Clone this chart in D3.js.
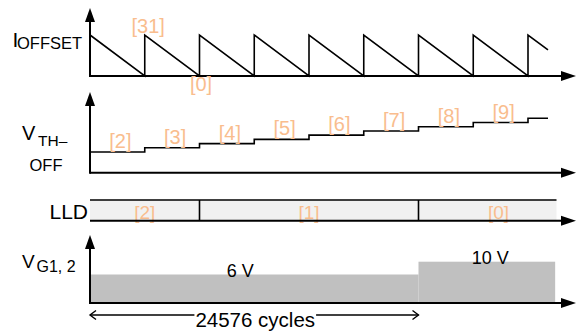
<!DOCTYPE html>
<html>
<head>
<meta charset="utf-8">
<script src="https://cdn.jsdelivr.net/npm/d3@7"></script>
<style>
  body { margin: 0; background: #fff; }
  svg text { font-family: "Liberation Sans", Arial, Helvetica, sans-serif; }
</style>
</head>
<body>
<svg id="chart" width="580" height="332"></svg>
<script>
// I_OFFSET code: jumps to 31 every 4096 cycles, ramps down to 0
const offsetCycles = [0, 4096, 4096, 8192, 8192, 12288, 12288, 16384, 16384, 20480, 20480, 24576, 24576, 28672, 28672, 32768, 32768, 34264]
const offsetCodes  = [31, 0, 31, 0, 31, 0, 31, 0, 31, 0, 31, 0, 31, 0, 31, 0, 31, 19.7]
const offsetLabels = ['[31]', '[0]']
const offsetLabelCycles = [4096, 8192]
const offsetLabelCodes = [31, 0]

// V_TH-OFF staircase
const vthCodes  = [2, 3, 4, 5, 6, 7, 8, 9, 10]
const vthStarts = [0, 4096, 8192, 12288, 16384, 20480, 24576, 28672, 32768]
const vthEnd = 34264
const vthLabels = ['[2]', '[3]', '[4]', '[5]', '[6]', '[7]', '[8]', '[9]']

// LLD code
const lldCodes  = ['[2]', '[1]', '[0]']
const lldStarts = [0, 8192, 24576]
const lldEnd = 34900

// V_G1,2 supply
const vgVolts  = [6, 10]
const vgStarts = [0, 24576]
const vgEnd = 34800
const vgLabels = ['6 V', '10 V']
const vgLabelCycles = [11240, 29950]

const spanCycles = [0, 24576]
const spanLabel = '24576 cycles'
const axisEnd = 36360

const orange = '#f9bd8e'
const svg = d3.select('#chart')

const x = d3.scaleLinear().domain([0, 24576]).range([90, 418.5])

// panel geometry
const panels = {
  off: {top: 8, base: 76},
  vth: {top: 92, base: 172.7},
  lld: {top: 200, base: 220.7},
  vg:  {top: 235, base: 303}
}

const yOff = d3.scaleLinear().domain([0, 31]).range([panels.off.base, 35])
const yVth = d3.scaleLinear().domain([2, 10]).range([152, 118.3])
const yVg  = d3.scaleLinear().domain([6, 10]).range([274.5, 261.7])

const drawAxes = (p, vertical) => {
  const g = svg.append('g')
  g.append('line')
    .attr('x1', x(0)).attr('x2', x(axisEnd) - 12)
    .attr('y1', p.base).attr('y2', p.base)
    .attr('stroke', '#000').attr('stroke-width', 2)
  g.append('path')
    .attr('d', `M${x(axisEnd)},${p.base} L${x(axisEnd) - 15},${p.base - 5} L${x(axisEnd) - 15},${p.base + 5} Z`)
    .attr('fill', '#000')
  if (vertical) {
    g.append('line')
      .attr('x1', x(0)).attr('x2', x(0))
      .attr('y1', p.base + 1).attr('y2', p.top + 12)
      .attr('stroke', '#000').attr('stroke-width', 2)
    g.append('path')
      .attr('d', `M${x(0)},${p.top} L${x(0) - 5},${p.top + 14} L${x(0) + 5},${p.top + 14} Z`)
      .attr('fill', '#000')
  }
}

// ---- V_G1,2 area (drawn first, behind axis)
const vgData = vgStarts.map((s, i) => ({start: s, end: i < vgStarts.length - 1 ? vgStarts[i + 1] : vgEnd, v: vgVolts[i]}))
svg.selectAll('.vg')
  .data(vgData)
  .enter().append('rect')
  .attr('class', 'vg')
  .attr('x', d => x(d.start))
  .attr('width', d => x(d.end) - x(d.start))
  .attr('y', d => yVg(d.v))
  .attr('height', d => panels.vg.base - yVg(d.v))
  .attr('fill', '#c0c0c0')

// ---- LLD box
const lldData = lldStarts.map((s, i) => ({start: s, end: i < lldStarts.length - 1 ? lldStarts[i + 1] : lldEnd, code: lldCodes[i]}))
svg.append('rect')
  .attr('x', x(0)).attr('width', x(lldEnd) - x(0))
  .attr('y', panels.lld.top).attr('height', panels.lld.base - panels.lld.top)
  .attr('fill', '#f1f1f1')
svg.append('line')
  .attr('x1', x(0)).attr('x2', x(lldEnd))
  .attr('y1', panels.lld.top).attr('y2', panels.lld.top)
  .attr('stroke', '#000').attr('stroke-width', 1.6)
svg.selectAll('.lld-div')
  .data(lldStarts.slice(1))
  .enter().append('line')
  .attr('x1', d => x(d)).attr('x2', d => x(d))
  .attr('y1', panels.lld.top).attr('y2', panels.lld.base)
  .attr('stroke', '#000').attr('stroke-width', 1.6)
svg.selectAll('.lld-label')
  .data(lldData)
  .enter().append('text')
  .attr('x', (d, i) => (x(d.start) + x(i < lldData.length - 1 ? d.end : axisEnd + 200)) / 2)
  .attr('y', 218.5)
  .attr('text-anchor', 'middle')
  .attr('font-size', 19)
  .attr('fill', orange)
  .text(d => d.code)

// ---- axes
drawAxes(panels.off, true)
drawAxes(panels.vth, true)
drawAxes(panels.lld, false)
drawAxes(panels.vg, true)

// ---- I_OFFSET sawtooth
const sawLine = d3.line().x(d => x(d[0])).y(d => yOff(d[1]))
svg.append('path')
  .attr('d', sawLine(offsetCycles.map((c, i) => [c, offsetCodes[i]])))
  .attr('fill', 'none').attr('stroke', '#000').attr('stroke-width', 1.6)
svg.selectAll('.off-label')
  .data(offsetLabels)
  .enter().append('text')
  .attr('x', (d, i) => x(offsetLabelCycles[i]) + (i === 0 ? 3.5 : 1.5))
  .attr('y', (d, i) => i === 0 ? yOff(offsetLabelCodes[i]) - 2 : yOff(offsetLabelCodes[i]) + 15)
  .attr('text-anchor', 'middle')
  .attr('font-size', 20)
  .attr('fill', orange)
  .text(d => d)

// ---- V_TH-OFF staircase
const vthPts = []
vthCodes.forEach((c, i) => {
  const end = i < vthCodes.length - 1 ? vthStarts[i + 1] : vthEnd
  vthPts.push([vthStarts[i], c], [end, c])
})
svg.append('path')
  .attr('d', d3.line().x(d => x(d[0])).y(d => yVth(d[1]))(vthPts))
  .attr('fill', 'none').attr('stroke', '#000').attr('stroke-width', 1.6)
svg.selectAll('.vth-label')
  .data(vthLabels)
  .enter().append('text')
  .attr('x', (d, i) => (x(vthStarts[i]) + x(vthStarts[i + 1])) / 2 + 3)
  .attr('y', (d, i) => yVth(vthCodes[i]) - 4)
  .attr('text-anchor', 'middle')
  .attr('font-size', 20)
  .attr('fill', orange)
  .text(d => d)

// ---- V_G labels
svg.selectAll('.vg-label')
  .data(vgLabels)
  .enter().append('text')
  .attr('x', (d, i) => x(vgLabelCycles[i]))
  .attr('y', (d, i) => yVg(vgVolts[i]) + 2)
  .attr('text-anchor', 'middle')
  .attr('font-size', 18)
  .attr('fill', '#000')
  .text(d => d)

// ---- span arrow
const spanY = 315
const spanText = svg.append('text')
  .attr('x', (x(spanCycles[0]) + x(spanCycles[1])) / 2 + 1)
  .attr('y', 326.7)
  .attr('text-anchor', 'middle')
  .attr('font-size', 20.5)
  .text(spanLabel)
const bb = spanText.node().getBBox()
const spanG = svg.append('g').attr('stroke', '#000').attr('stroke-width', 1.4).attr('fill', 'none')
spanG.append('line').attr('x1', x(spanCycles[0])).attr('x2', bb.x - 1).attr('y1', spanY).attr('y2', spanY)
spanG.append('line').attr('x1', bb.x + bb.width + 1).attr('x2', x(spanCycles[1])).attr('y1', spanY).attr('y2', spanY)
spanG.append('path').attr('d', `M${x(spanCycles[0]) + 6},${spanY - 4.5} L${x(spanCycles[0])},${spanY} L${x(spanCycles[0]) + 6},${spanY + 4.5}`)
spanG.append('path').attr('d', `M${x(spanCycles[1]) - 6},${spanY - 4.5} L${x(spanCycles[1])},${spanY} L${x(spanCycles[1]) - 6},${spanY + 4.5}`)

// ---- left signal names
const names = svg.append('g').attr('fill', '#000')
names.append('text').attr('x', 12.5).attr('y', 46.5).attr('font-size', 21).text('I')
names.append('text').attr('x', 17).attr('y', 48.5).attr('font-size', 16.5).text('OFFSET')
names.append('text').attr('x', 22).attr('y', 140).attr('font-size', 20).text('V')
names.append('text').attr('x', 38).attr('y', 145.7).attr('font-size', 15.5).text('TH–')
names.append('text').attr('x', 29.5).attr('y', 170.7).attr('font-size', 16.5).text('OFF')
names.append('text').attr('x', 88).attr('y', 219.3).attr('font-size', 21).attr('text-anchor', 'end').text('LLD')
names.append('text').attr('x', 22).attr('y', 268.3).attr('font-size', 19).text('V')
names.append('text').attr('x', 36.5).attr('y', 271.7).attr('font-size', 16).text('G1, 2')
</script>
</body>
</html>
